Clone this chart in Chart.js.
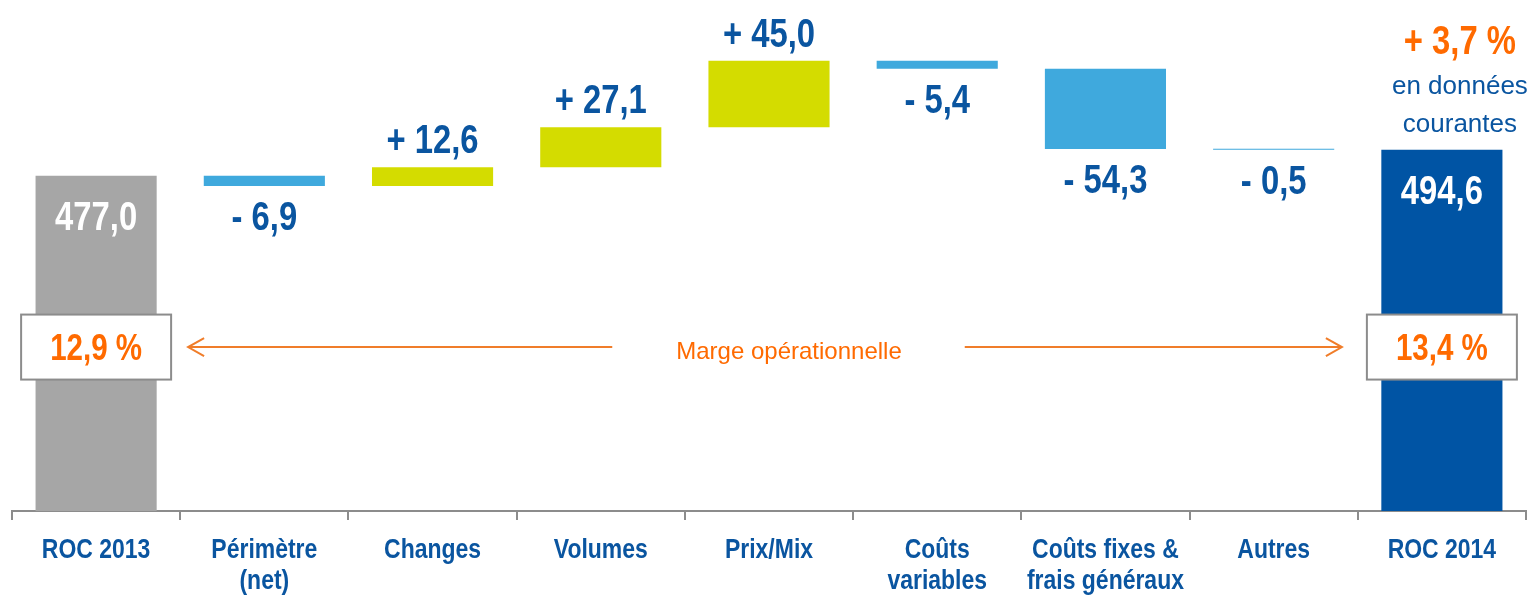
<!DOCTYPE html>
<html>
<head>
<meta charset="utf-8">
<script src="https://cdn.jsdelivr.net/npm/chart.js@4.4.0/dist/chart.umd.min.js"></script>
<style>
html, body { margin: 0; padding: 0; background: #fff; }
#wrap { width: 1532px; height: 597px; }
</style>
</head>
<body>
<div id="wrap"><canvas id="myChart" width="1532" height="597"></canvas></div>
<script>
// waterfall data (M€)
var categories = [['ROC 2013'], ['Périmètre', '(net)'], ['Changes'], ['Volumes'], ['Prix/Mix'],
    ['Coûts', 'variables'], ['Coûts fixes &', 'frais généraux'], ['Autres'], ['ROC 2014']];
var startValue = 477.0;
var deltas = [-6.9, 12.6, 27.1, 45.0, -5.4, -54.3, -0.5];
var endValue = 494.6;
var valueLabels = ['477,0', '- 6,9', '+ 12,6', '+ 27,1', '+ 45,0', '- 5,4', '- 54,3', '- 0,5', '494,6'];
var marginLabels = ['12,9 %', '13,4 %'];
var marginText = 'Marge opérationnelle';
var growthLabel = '+ 3,7 %';
var growthNote = ['en données', 'courantes'];

var Y_MIN = 250, Y_MAX = 596;
var SANS = "'Liberation Sans', Arial, sans-serif";
var BLUE_TXT = '#0A55A0';
var ORANGE = '#FF6A00';

// floating bars built from the deltas
var bars = [[Y_MIN, startValue]];
var colors = ['#A6A6A6'];
var running = startValue;
deltas.forEach(function (d) {
    bars.push([running, running + d]);
    colors.push(d < 0 ? '#3FA9DD' : '#D4DC00');
    running += d;
});
bars.push([Y_MIN, endValue]);
colors.push('#0054A4');

// no narrow font installed: squeeze Liberation Sans bold horizontally
function narrowText(ctx, text, x, y) {
    ctx.save();
    ctx.translate(x, y);
    ctx.scale(0.82, 1);
    ctx.fillText(text, 0, 0);
    ctx.restore();
}

var labelPlugin = {
    id: 'waterfallLabels',
    afterDatasetsDraw: function (chart) {
        var ctx = chart.ctx;
        var meta = chart.getDatasetMeta(0);
        var xs = chart.scales.x, ys = chart.scales.y;
        var area = chart.chartArea;
        ctx.save();
        ctx.textAlign = 'center';
        ctx.textBaseline = 'middle';

        // value labels
        meta.data.forEach(function (bar, i) {
            var top = Math.min(bar.y, bar.base);
            var bottom = Math.max(bar.y, bar.base);
            ctx.font = 'bold 40px ' + SANS;
            if (i === 0 || i === meta.data.length - 1) {
                ctx.fillStyle = '#FFFFFF';
                narrowText(ctx, valueLabels[i], bar.x, top + 43);
            } else if (deltas[i - 1] >= 0) {
                ctx.fillStyle = BLUE_TXT;
                narrowText(ctx, valueLabels[i], bar.x, top - 25);
            } else {
                ctx.fillStyle = BLUE_TXT;
                narrowText(ctx, valueLabels[i], bar.x, bottom + 33);
            }
        });

        // category labels
        ctx.font = 'bold 28px ' + SANS;
        ctx.fillStyle = BLUE_TXT;
        categories.forEach(function (lines, i) {
            var x = xs.getPixelForValue(i);
            lines.forEach(function (line, j) {
                narrowText(ctx, line, x, area.bottom + 39 + j * 31);
            });
        });

        // margin boxes
        var rowY = ys.getPixelForValue(361);
        var first = meta.data[0], last = meta.data[meta.data.length - 1];
        [first, last].forEach(function (bar, k) {
            var w = 150, h = 65;
            ctx.fillStyle = '#FFFFFF';
            ctx.fillRect(bar.x - w / 2, rowY - h / 2, w, h);
            ctx.strokeStyle = '#8C8C8C';
            ctx.lineWidth = 2;
            ctx.strokeRect(bar.x - w / 2, rowY - h / 2, w, h);
            ctx.fillStyle = ORANGE;
            ctx.font = 'bold 36px ' + SANS;
            narrowText(ctx, marginLabels[k], bar.x, rowY + 3);
        });

        // "Marge opérationnelle" with arrows
        var cx = xs.getPixelForValue(4) + 20;
        ctx.font = '24px ' + SANS;
        ctx.fillStyle = ORANGE;
        ctx.fillText(marginText, cx, rowY + 5);
        var tw = ctx.measureText(marginText).width;
        var x1 = first.x + 75 + 17, x2 = cx - tw / 2 - 64;
        var x3 = cx + tw / 2 + 63, x4 = last.x - 75 - 25;
        ctx.strokeStyle = '#F07D2A';
        ctx.lineWidth = 2;
        ctx.beginPath();
        ctx.moveTo(x2, rowY); ctx.lineTo(x1, rowY);
        ctx.moveTo(x1 + 16, rowY - 9); ctx.lineTo(x1, rowY); ctx.lineTo(x1 + 16, rowY + 9);
        ctx.moveTo(x3, rowY); ctx.lineTo(x4, rowY);
        ctx.moveTo(x4 - 16, rowY - 9); ctx.lineTo(x4, rowY); ctx.lineTo(x4 - 16, rowY + 9);
        ctx.stroke();

        // growth note above ROC 2014
        var gx = last.x + 18;
        ctx.fillStyle = ORANGE;
        ctx.font = 'bold 40px ' + SANS;
        narrowText(ctx, growthLabel, gx, 43);
        ctx.fillStyle = BLUE_TXT;
        ctx.font = '26px ' + SANS;
        ctx.fillText(growthNote[0], gx, 87);
        ctx.fillText(growthNote[1], gx, 125);
        ctx.restore();
    }
};

var ctx = document.getElementById('myChart').getContext('2d');
var myChart = new Chart(ctx, {
    type: 'bar',
    data: {
        labels: categories,
        datasets: [{
            data: bars,
            backgroundColor: colors,
            barPercentage: 0.72,
            categoryPercentage: 1.0,
            minBarLength: 1
        }]
    },
    options: {
        responsive: false,
        animation: false,
        layout: { padding: { left: 12, right: 6, top: 0, bottom: 0 } },
        plugins: { legend: { display: false }, tooltip: { enabled: false } },
        scales: {
            y: { display: false, min: Y_MIN, max: Y_MAX },
            x: {
                grid: { offset: true, drawOnChartArea: false, drawTicks: true, tickLength: 9, color: '#8C8C8C', lineWidth: 2 },
                border: { color: '#8C8C8C', width: 2 },
                // labels are drawn condensed by the plugin
                ticks: { color: 'rgba(0,0,0,0)', font: { size: 28 }, maxRotation: 0, autoSkip: false },
                afterFit: function (scale) { scale.height = 86; }
            }
        }
    },
    plugins: [labelPlugin]
});
</script>
</body>
</html>
